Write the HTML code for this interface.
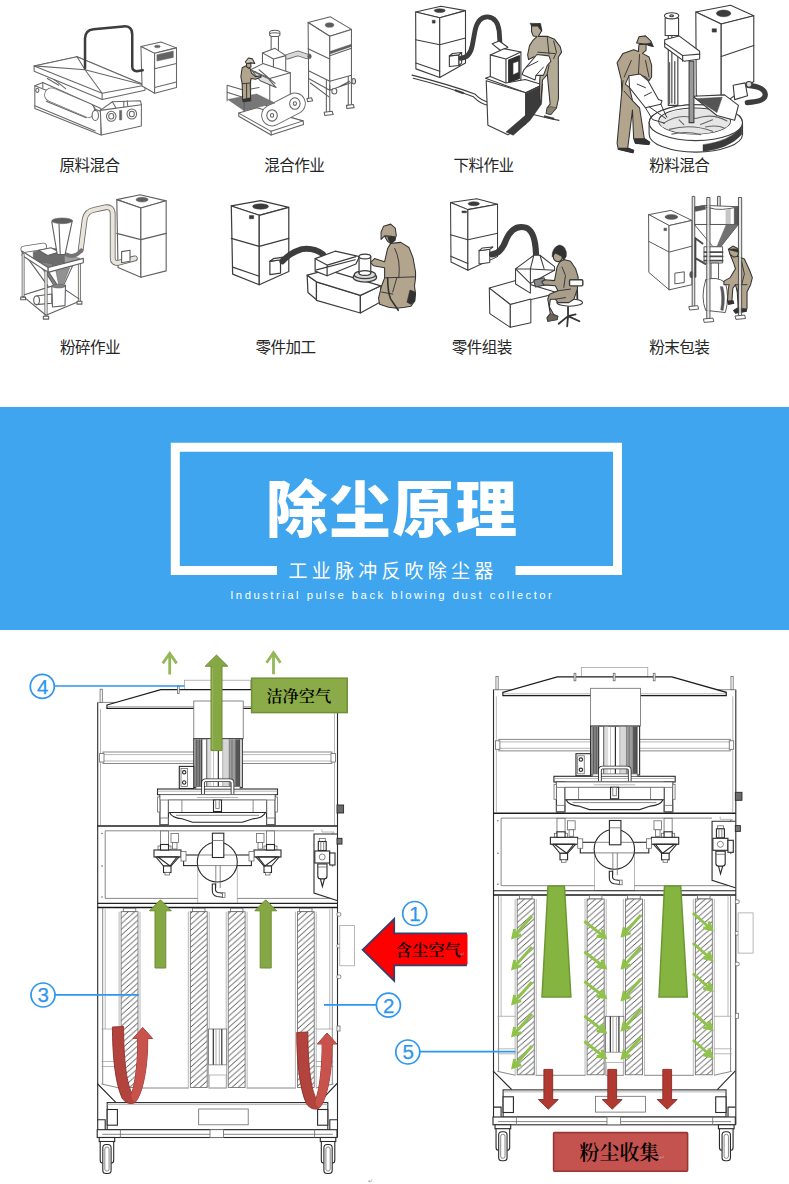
<!DOCTYPE html>
<html lang="zh-CN">
<head>
<meta charset="utf-8">
<title>除尘原理</title>
<style>
html,body{margin:0;padding:0;background:#fff;}
body{width:789px;height:1184px;overflow:hidden;position:relative;font-family:"Liberation Sans","Noto Sans CJK SC",sans-serif;}
svg{position:absolute;left:0;top:0;display:block;}
.lab{font-family:"Liberation Sans","Noto Sans CJK SC",sans-serif;font-size:15.6px;fill:#262626;text-anchor:middle;letter-spacing:-0.6px;}
.k{fill:none;stroke:#3c3c3c;stroke-width:4.6;stroke-linejoin:round;stroke-linecap:round;}
.w{fill:#fff;stroke:#3c3c3c;stroke-width:4.6;stroke-linejoin:round;stroke-linecap:round;}
.g{fill:#d9d9d9;stroke:#3c3c3c;stroke-width:4.6;stroke-linejoin:round;}
.d{fill:#3a3a3a;stroke:#3a3a3a;stroke-width:2;stroke-linejoin:round;}
.man{fill:#aaa08c;stroke:#3a3a3a;stroke-width:3.6;stroke-linejoin:round;}
.hose{fill:none;stroke-linecap:round;stroke-linejoin:round;}
.mn{fill:#b3a58d;stroke:#333;stroke-width:1.05px;vector-effect:non-scaling-stroke;stroke-linejoin:round;}
.dn{fill:#303030;stroke:#303030;stroke-width:0.5px;vector-effect:non-scaling-stroke;stroke-linejoin:round;}
.wn{fill:#fff;stroke:#3a3a3a;stroke-width:1.05px;vector-effect:non-scaling-stroke;stroke-linejoin:round;}
.kn{fill:none;stroke:#3a3a3a;stroke-width:1px;vector-effect:non-scaling-stroke;stroke-linejoin:round;stroke-linecap:round;}
.m1{fill:none;stroke:#6a6a6a;stroke-width:0.8;}
.m1w{fill:#fff;stroke:#6a6a6a;stroke-width:0.8;}
.m2{fill:none;stroke:#2a2a2a;stroke-width:1.1;}
.m2w{fill:#fff;stroke:#2a2a2a;stroke-width:1.1;}
.m3{fill:none;stroke:#9a9a9a;stroke-width:0.7;}
.m3w{fill:#fff;stroke:#9a9a9a;stroke-width:0.7;}
.num{font-family:"Liberation Sans","DejaVu Sans",sans-serif;font-size:20.500px;fill:#2d96f0;text-anchor:middle;stroke:#2d96f0;stroke-width:0.25px;}
.cn{font-family:"Liberation Serif","Noto Serif CJK SC",serif;font-weight:600;fill:#000;text-anchor:middle;}
</style>
</head>
<body>
<svg width="789" height="1184" viewBox="0 0 789 1184">
<g id="labels"><text class="lab" x="89.6" y="170.5">原料混合</text><text class="lab" x="294.3" y="170.5">混合作业</text><text class="lab" x="483.6" y="170.5">下料作业</text><text class="lab" x="679.3" y="170.5">粉料混合</text><text class="lab" x="90.1" y="352.8">粉碎作业</text><text class="lab" x="285.6" y="352.8">零件加工</text><text class="lab" x="481.7" y="352.8">零件组装</text><text class="lab" x="679.3" y="352.8">粉末包装</text></g>
<defs><filter id="soft" x="-2%" y="-2%" width="104%" height="104%"><feGaussianBlur stdDeviation="0.35"/></filter></defs><g id="illus" filter="url(#soft)">
<g transform="translate(20,10) scale(0.22814)" opacity="0.78"><path class="w" d="M65 332L100 318L355 432L355 548L65 432Z" /><path class="k" d="M65 332L355 445" /><path class="k" d="M100 340L100 318" /><ellipse class="k" cx="76" cy="352" rx="7" ry="9" /><path class="hose" d="M138 372L300 440" stroke="#4a4a4a" stroke-width="64"/><path class="hose" d="M138 372L300 440" stroke="#fff" stroke-width="57"/><path class="k" d="M115 400L290 472M318 415Q335 440 322 470" /><path class="k" d="M65 420L330 530" /><path class="w" d="M352 440L405 402L528 398L532 415L532 508L357 548Z" /><path class="k" d="M352 440L532 415" /><path class="k" d="M405 402L420 428M455 400L455 425M470 398L472 420" /><ellipse class="w" cx="400" cy="466" rx="21" ry="22" /><ellipse class="w" cx="490" cy="456" rx="21" ry="22" /><ellipse class="k" cx="400" cy="466" rx="11" ry="12" /><ellipse class="k" cx="490" cy="456" rx="11" ry="12" /><path class="d" d="M436 440H446V482H436Z" /><ellipse class="w" cx="330" cy="462" rx="14" ry="22" /><path class="w" d="M62 245L62 268L360 392L548 352L548 330L250 205Z" /><path class="w" d="M62 245L250 205L548 330L360 365Z" /><path class="k" d="M62 245L285 262L250 205M285 262L548 330M285 262L360 365M360 365V392" /><path class="k" d="M120 300L170 330M150 305L200 345" /><path class="w" d="M530 160L618 140L686 166L590 190Z" /><path class="w" d="M530 160L590 190L590 365L535 333Z" /><path class="w" d="M590 190L686 166L686 340L590 365Z" /><path class="k" d="M590 258L686 235" /><ellipse class="d" cx="602" cy="160" rx="13" ry="6" /><path class="d" d="M600 196L672 180L672 208L600 224Z" /><path class="k" d="M590 340L686 316" /></g>
<g transform="translate(20,10) scale(0.22814)"><path class="hose" d="M285 255V125Q285 88 322 84L452 72Q492 68 492 108V248Q492 268 512 268L538 264" stroke="#3c3c3c" stroke-width="11"/></g>
<g transform="translate(210,10) scale(0.22814)" opacity="0.82"><path class="k" d="M432 262V392" /><path class="k" d="M510 305V452" /><path class="k" d="M525 308V452" /><path class="k" d="M606 288V422" /><path class="k" d="M620 284V422" /><path class="w" d="M425 388L445 385L450 398L428 402Z" /><path class="w" d="M500 448L535 444L540 458L503 462Z" /><path class="w" d="M598 418L628 414L632 428L600 432Z" /><path class="k" d="M432 300L525 352L620 318M440 320L520 380M525 352V330M560 340L612 312" /><ellipse class="w" cx="545" cy="356" rx="11" ry="12" /><ellipse class="g" cx="630" cy="312" rx="8" ry="12" /><path class="w" d="M430 55L528 30L620 85L525 115Z" /><path class="w" d="M430 55L525 115L525 312L432 266Z" /><path class="w" d="M525 115L620 85L620 286L525 312Z" /><ellipse class="d" cx="524" cy="66" rx="19" ry="10" /><path class="d" d="M525 182L620 150L620 160L525 193Z" /><path class="k" d="M430 170L525 215M525 200L620 168" /><path class="hose" d="M338 205L385 190L425 203" stroke="#444" stroke-width="24"/><path class="hose" d="M338 205L385 190L425 203" stroke="#d0d0d0" stroke-width="17"/><ellipse class="d" cx="436" cy="203" rx="8" ry="11" /><path class="w" d="M268 108L300 108L300 205L268 205Z" /><ellipse class="w" cx="284" cy="100" rx="23" ry="11" /><ellipse class="w" cx="284" cy="108" rx="23" ry="8" /><path class="w" d="M230 188L285 168L332 200L332 290L275 300L230 270Z" /><path class="k" d="M230 188L278 215L332 200M278 215V298" /><path class="w" d="M178 262L232 235L352 275L352 392L262 425L178 385Z" /><path class="k" d="M178 262L262 300L352 275M262 300V425M200 270L265 330M215 262L285 322" /><path class="g" d="M185 268L255 300L290 340L220 310Z" /><path class="w" d="M126 452L205 428L408 486L410 502L268 548L126 466Z" /><path class="k" d="M126 452L268 532L408 486" /><path class="k" d="M268 532V548" /><path class="hose" d="M272 462L372 410" stroke="#4a4a4a" stroke-width="96"/><path class="hose" d="M272 462L372 410" stroke="#fff" stroke-width="88"/><ellipse class="w" cx="272" cy="462" rx="23" ry="25" /><ellipse class="k" cx="272" cy="462" rx="7" ry="8" /><ellipse class="w" cx="372" cy="410" rx="23" ry="25" /><ellipse class="k" cx="372" cy="410" rx="7" ry="8" /><path class="d" d="M78 392L205 368L285 408L150 442Z" style="fill:#5a5a5a"/><path class="k" d="M75 330V398M75 330L150 352V440M75 360L150 385M150 352L215 340" /></g>
<g transform="translate(220,50) scale(0.08873)"><path class="mn" d="M250 200L300 175L340 210L355 260L400 300L460 290L465 305L400 330L350 320L340 380L345 540L300 560L255 560L250 380L235 300Z" /><path class="mn" d="M298 150L345 148L350 190L325 205L300 190Z" /><path class="mn" d="M285 135L320 90L365 100L392 152L350 145L300 152Z" style="fill:#cfc6b4"/><path class="kn" d="M250 380L340 372M300 385V555" /><path class="dn" d="M255 555L345 538L350 575L258 585Z" /></g>
<g transform="translate(400,0) scale(0.24081)"><path class="k" d="M50 312Q200 350 310 390Q340 420 370 425L450 445Q560 480 660 500M55 325Q200 362 305 402Q335 432 365 437" /><path class="d" d="M230 372L265 384L262 390L228 378ZM470 452L510 462L508 468L468 458ZM600 480L640 490L638 496L598 486Z" /><path class="w" d="M65 50L170 26L272 44L165 74Z" /><path class="w" d="M65 50L165 74L165 322L66 286Z" /><path class="w" d="M165 74L272 44L272 262L165 322Z" /><path class="k" d="M65 165L165 186L272 158" /><path class="k" d="M66 262L165 296" /><ellipse class="d" cx="165" cy="44" rx="23" ry="8" /><path class="d" d="M134 84H146V96H134Z" /><path class="w" d="M205 232L245 228L245 272L205 276Z" /><path class="w" d="M205 232L218 222L256 218L245 228Z" /><path class="w" d="M245 228L256 218L256 262L245 272Z" /><path class="hose" d="M252 242Q290 240 300 190L312 125Q325 68 365 70Q405 74 412 130L415 178" stroke="#3c3c3c" stroke-width="20"/><path class="w" d="M383 182L412 170L448 196L420 212Z" /><path class="w" d="M375 228L432 202L502 216L502 332L440 352L375 330Z" /><path class="k" d="M375 228L440 245L502 216M440 245V352" /><path class="d" d="M452 250L495 232L495 325L452 342Z" style="fill:#2e2e2e;stroke:#2e2e2e;stroke-width:6"/><path class="w" d="M470 262L492 254L492 300L470 310Z" style="stroke-width:2"/><path class="w" d="M355 325L375 318L440 345L520 330L592 352L522 385Z" /><path class="w" d="M358 335L522 385L522 515L448 560L365 520Z" /><path class="k" d="M522 385L592 352" /><path class="d" d="M522 388L592 355L588 432L540 500L470 562L440 548L522 478Z" /></g>
<g transform="translate(510,15) scale(0.09288)"><path class="mn" d="M232 105L320 95L340 170L305 230L400 230L480 262L540 340L555 400L520 455L522 900L500 1000L440 1070L390 1060L400 1000L432 960L402 640L350 700L332 930L318 930L320 700L330 600L260 450L200 480L190 430L210 330L250 270L290 232L250 225L232 180Z" style="fill:#b4ab96"/><path class="dn" d="M215 90L330 92L345 175L318 150L300 120L235 122Z" /><path class="kn" d="M400 232L420 420M300 400L480 415M470 280L500 400L470 470M400 640L420 540" /><path class="dn" d="M388 1058L400 1000L440 985L500 1000L440 1072Z" style="fill:#8a8272"/><path class="wn" d="M150 590L290 425L420 440L440 500L400 545L360 650L280 650L270 700L130 640Z" /><path class="kn" d="M180 560L300 500M280 650L360 560" /></g>
<g transform="translate(600,0) scale(0.23954)"><path class="w" d="M400 50L545 22L642 66L506 100Z" /><path class="w" d="M400 50L506 100L506 440L402 400Z" /><path class="w" d="M506 100L642 66L642 340L506 440Z" /><path class="k" d="M506 236L642 190" /><ellipse class="d" cx="516" cy="56" rx="30" ry="14" /><path class="d" d="M468 120H486V134H468Z" /><path class="hose" d="M618 356Q688 362 690 395Q690 425 615 428" stroke="#3c3c3c" stroke-width="22"/><path class="w" d="M556 356L606 346L616 400L562 416Z" /><ellipse class="g" cx="622" cy="352" rx="12" ry="12" /><path class="w" d="M285 140L325 140L325 440L285 440Z" /><path class="w" d="M272 75L328 75L328 148L272 148Z" /><ellipse class="w" cx="299" cy="66" rx="30" ry="13" /><ellipse class="k" cx="299" cy="66" rx="8" ry="4" /><path class="k" d="M300 150V430" /><path class="w" d="M270 166L330 150L416 214L416 246L352 256L270 196Z" /><path class="k" d="M270 180L345 232L416 226M345 232V256" /><path class="w" d="M205 512A195 75 0 0 1 595 512V560A195 75 0 0 1 205 560Z" /><ellipse class="w" cx="400" cy="512" rx="195" ry="75" /><ellipse class="k" cx="395" cy="505" rx="150" ry="54" /><path class="d" d="M430 632Q540 620 592 560V530Q540 590 430 604Z" /><ellipse class="g" cx="395" cy="507" rx="148" ry="52" style="fill:#e6e6e6;stroke:none"/><path class="k" d="M265 515Q330 470 400 495Q470 470 530 505M290 540Q380 515 470 548M330 500L350 520M420 520L470 500M300 560Q360 545 420 562M440 530Q490 520 520 535" style="stroke:#666"/><path class="k" d="M290 262V432M312 258V432" style="stroke:#666;stroke-width:6"/><path class="w" d="M388 402L520 396L578 440L562 502L488 482Z" /><path class="d" d="M400 412L510 406L488 470Z" style="fill:#555"/><path class="g" d="M372 256L392 256L392 512L372 512Z" style="fill:#9a9a9a"/></g>
<g transform="translate(610,25) scale(0.11825)"><path class="mn" d="M245 165L305 165L305 215L275 240L330 270L352 340L352 440L330 470L300 440L250 420L160 430L130 500L165 530L190 640L250 700L290 960L335 990L330 1010L215 1000L200 960L190 720L150 1040L200 1060L195 1080L70 1050L60 1000L100 560L95 460L60 320L110 240L200 210L240 225Z" /><path class="mn" d="M225 152L245 100L300 92L345 135L365 182L330 172L300 160Z" /><path class="dn" d="M300 160L345 150L365 182L330 175Z" /><path class="kn" d="M180 300L120 440M250 250L240 420M300 300L330 440M120 560L190 640M100 560L110 470" /><path class="dn" d="M205 960L290 960L338 992L330 1012L215 1002Z" /><path class="dn" d="M75 1040L150 1040L202 1062L195 1082L70 1052Z" /><path class="wn" d="M160 430L255 415L320 470L410 630L440 640L430 670L300 700L165 530Z" /><path class="kn" d="M230 500L300 530M290 600L350 570M300 700L360 800L460 830M330 690L470 790M430 670L480 780" /></g>
<g transform="translate(0,190) scale(0.24081)" opacity="0.82"><path class="w" d="M485 40L582 20L690 45L585 75Z" /><path class="w" d="M485 40L585 75L585 362L490 322Z" /><path class="w" d="M585 75L690 45L690 336L585 362Z" /><path class="k" d="M485 180L585 206L690 180" /><ellipse class="d" cx="590" cy="40" rx="25" ry="10" /><path class="hose" d="M335 250L352 120Q358 88 392 82L438 72Q468 68 468 100V282Q468 306 492 302L560 284" stroke="#444" stroke-width="24"/><path class="hose" d="M335 250L352 120Q358 88 392 82L438 72Q468 68 468 100V282Q468 306 492 302L560 284" stroke="#e4e0d2" stroke-width="17"/><path class="w" d="M505 256L540 250L540 296L505 302Z" /><path class="hose" d="M330 300V466" stroke="#444" stroke-width="13"/><path class="hose" d="M330 300V466" stroke="#f3f1e8" stroke-width="6"/><path class="k" d="M98 436L238 392L328 452" /><path class="hose" d="M100 246L180 234" stroke="#444" stroke-width="30"/><path class="hose" d="M100 246L180 234" stroke="#fff" stroke-width="23"/><path class="d" d="M138 256L228 242L268 262L268 302L205 320L138 292Z" style="fill:#4c4c4c"/><path class="d" d="M268 262L332 284L332 300L268 314Z" style="fill:#8c8c8c"/><path class="w" d="M160 250L212 240L246 258L198 272Z" /><path class="hose" d="M275 268Q310 285 338 250" stroke="#555" stroke-width="16"/><path class="d" d="M150 296L215 306L252 396L232 400Z" style="fill:#6a6a6a"/><path class="w" d="M200 338L302 314L264 396L240 398Z" /><path class="d" d="M232 336L290 322L262 392L244 394Z" style="fill:#7a7a7a"/><path class="k" d="M120 290L200 400M165 300L225 398" /><path class="w" d="M215 400L272 396L270 480L218 486Z" /><ellipse class="d" cx="243" cy="399" rx="28" ry="8" style="fill:#666"/><path class="w" d="M150 440L215 432L215 470L150 476Z" /><ellipse class="w" cx="152" cy="458" rx="12" ry="18" /><path class="w" d="M92 254L200 322L200 342L92 272Z" /><path class="w" d="M200 322L346 284L346 302L200 342Z" /><path class="hose" d="M96 268V448" stroke="#444" stroke-width="12"/><path class="hose" d="M96 268V448" stroke="#f3f1e8" stroke-width="5"/><path class="hose" d="M191 340V526" stroke="#444" stroke-width="13"/><path class="hose" d="M191 340V526" stroke="#f3f1e8" stroke-width="6"/><path class="k" d="M96 442L191 520L330 462" /><path class="w" d="M86 445L106 445L106 456L86 456Z" /><path class="w" d="M180 524L202 524L202 536L180 536Z" /><path class="w" d="M320 462L340 462L340 474L320 474Z" /><path class="w" d="M215 132L300 128L270 268L238 268Z" /><ellipse class="d" cx="258" cy="128" rx="43" ry="12" /><path class="k" d="M245 142L250 264" /></g>
<g transform="translate(210,190) scale(0.26616)"><path class="w" d="M80 60L190 40L296 65L185 95Z" /><path class="w" d="M80 60L185 95L185 356L85 316Z" /><path class="w" d="M185 95L296 65L296 306L185 356Z" /><path class="k" d="M80 182L185 212L296 182" /><path class="k" d="M85 290L185 324" /><ellipse class="d" cx="190" cy="62" rx="30" ry="10" /><path class="d" d="M148 96H164V108H148Z" /><path class="w" d="M225 268L265 262L265 312L225 318Z" /><path class="w" d="M225 268L238 258L276 252L265 262Z" /><path class="hose" d="M272 268Q300 236 345 222Q390 215 425 242" stroke="#3c3c3c" stroke-width="22"/><path class="w" d="M365 320L400 345L400 412L368 385Z" /><path class="w" d="M400 345L565 396L565 462L400 415Z" /><path class="w" d="M565 396L642 360L642 420L565 462Z" /><path class="w" d="M365 320L440 300L642 360L565 396L400 345Z" /><path class="w" d="M395 258L470 230L562 250L548 278L440 322L395 305Z" /><path class="k" d="M395 258L440 282L548 250M440 282V322M400 300L545 262" /><ellipse class="g" cx="582" cy="328" rx="44" ry="18" /><ellipse class="g" cx="582" cy="318" rx="40" ry="15" /><path class="w" d="M560 250L604 250L604 312L560 312Z" /><ellipse class="w" cx="582" cy="250" rx="22" ry="9" /><ellipse class="w" cx="582" cy="312" rx="22" ry="9" /></g>
<g transform="translate(340,215) scale(0.10139)"><path class="mn" d="M500 280L600 270L680 320L720 420L745 560L745 620L735 700L745 780L735 850L700 900L640 910L560 920L480 910L390 880L380 820L410 700L440 620L440 520L330 500L300 470L340 430L440 460L470 330Z" /><path class="mn" d="M440 210L500 200L540 250L500 282L470 260Z" /><path class="mn" d="M405 170L430 110L500 90L545 130L555 200L540 250L510 210L440 205L405 240Z" /><path class="dn" d="M470 215L540 210L545 250L500 282L480 250Z" /><path class="kn" d="M540 330Q600 450 580 620M440 620L745 610M560 620L520 760M410 760L520 780" /><path class="dn" d="M690 740L742 760L740 850L700 882L660 860Z" /><path class="kn" d="M470 620Q470 760 500 830L575 940" style="stroke:#333;stroke-width:1.6px"/></g>
<g transform="translate(430,190) scale(0.22814)"><path class="w" d="M90 55L205 38L296 62L166 86Z" /><path class="w" d="M90 55L166 86L166 352L92 316Z" /><path class="w" d="M166 86L296 62L296 292L166 352Z" /><path class="k" d="M90 196L166 218L296 190" /><path class="k" d="M91 290L166 322" /><ellipse class="d" cx="192" cy="60" rx="25" ry="9" /><path class="d" d="M140 92H160V100H140Z" /><path class="w" d="M215 266L262 260L262 318L215 324Z" /><path class="w" d="M215 266L230 254L276 250L262 260Z" /><path class="hose" d="M272 282Q312 280 335 215Q365 150 420 165Q462 180 465 285" stroke="#3c3c3c" stroke-width="27"/><path class="w" d="M260 430L380 396L562 452L352 502Z" /><path class="w" d="M260 430L352 502L352 602L262 542Z" /><path class="w" d="M352 502L442 478L442 582L352 602Z" /><path class="w" d="M375 346L440 410L440 452L375 412Z" /><path class="w" d="M375 346L455 286L482 286L546 336L546 352L440 346Z" /><path class="k" d="M440 346V410M455 286L440 346M482 286L500 345M440 410L546 352" /><path class="g" d="M455 395L500 385L510 415L462 425Z" style="fill:#8a8a8a"/></g>
<g transform="translate(530,235) scale(0.08451)"><path class="kn" d="M450 850V960M450 960L340 1050M450 960L585 1020M450 960L440 1080M450 960L540 940M555 600L562 800" style="stroke:#333;stroke-width:1.8px"/><ellipse class="wn" cx="470" cy="800" rx="152" ry="42" /><path class="mn" d="M400 290L480 310L540 400L570 500L560 640L520 760L460 800L330 800L300 760L240 760L230 850L280 940L330 960L320 1000L210 1020L200 980L240 930L210 760L230 700L330 660L300 600L160 590L140 550L180 530L290 540L320 380L350 320Z" style="fill:#a89e8a"/><path class="kn" d="M380 380L420 480L400 620M330 660L480 640M300 760L420 740" /><ellipse class="mn" cx="330" cy="255" rx="55" ry="60" /><path class="dn" d="M262 262Q255 150 345 118Q440 130 430 250L400 300L370 250L300 215Z" /><path class="dn" d="M205 978L240 932L330 960L322 1002L210 1022Z" style="fill:#6a6458"/><path class="wn" d="M480 530H610Q625 530 625 545V590Q625 602 610 602H480Q468 602 468 590V545Q468 530 480 530Z" style="stroke-width:1.4px"/></g>
<g transform="translate(620,190) scale(0.21420)" opacity="0.85"><path class="w" d="M135 115L238 95L336 142L230 166Z" /><path class="w" d="M135 115L230 166L230 466L136 386Z" /><path class="w" d="M230 166L336 142L336 442L230 466Z" /><path class="k" d="M135 240L230 290L336 262" /><ellipse class="d" cx="240" cy="126" rx="30" ry="12" /><path class="d" d="M205 178H218V190H205Z" /><path class="w" d="M258 388L300 382L300 432L258 438Z" /><path class="g" d="M455 30L468 30L468 110L455 110Z" /><path class="w" d="M349 80L395 72L552 78L552 161L349 161Z" /><path class="k" d="M349 80Q380 70 420 84Q470 100 552 78M420 84V161" /><path class="g" d="M493 92L517 88L517 161L493 161Z" style="fill:#bdbdbd;stroke:none"/><path class="d" d="M533 84L552 78L552 161L533 161Z" style="fill:#3a3a3a"/><path class="d" d="M349 80L395 72L400 90L352 100Z" style="fill:#3a3a3a"/><path class="w" d="M349 161L552 161L470 265L436 265Z" /><path class="d" d="M496 161L552 161L470 265L452 265Z" style="fill:#5a5a5a"/><path class="k" d="M352 225V405M352 225L385 250M352 318L398 345" style="stroke:#2a2a2a;stroke-width:9"/><path class="w" d="M394 265L479 265L479 341L394 341Z" /><path class="k" d="M394 290H479M394 310H479M394 330H479" style="stroke:#2a2a2a;stroke-width:8"/><path class="w" d="M427 341L460 341L460 426L427 426Z" /><ellipse class="d" cx="335" cy="395" rx="10" ry="16" /><path class="w" d="M400 420Q375 500 400 562L492 572Q512 500 492 432Q450 400 400 420Z" /><path class="d" d="M468 450Q480 500 470 560L482 562Q494 500 480 452Z" /></g>
<g transform="translate(700,235) scale(0.08873)"><path class="mn" d="M420 240L500 270L560 400L590 480L570 560L530 640L530 820L520 860L400 880L380 850L430 820L420 640L400 560L370 600L360 740L380 770L320 780L310 740L320 600L330 560L270 560L270 520L340 480L400 380L380 320L340 220Z" /><path class="mn" d="M320 160L370 125L420 150L440 200L420 240L380 250L340 220Z" /><path class="dn" d="M322 165Q370 150 425 160L440 200L400 185Z" /><path class="kn" d="M470 300L500 440L470 560M400 560L530 560M420 640L440 560" /><path class="dn" d="M378 850L430 822L520 830L522 862L400 882Z" /><path class="dn" d="M312 742L375 738L382 772L320 782Z" /></g>
<g transform="translate(620,190) scale(0.21420)" opacity="0.85"><path class="g" d="M337 30L349 30L349 548L337 548Z" style="fill:#e2e2e2"/><path class="w" d="M323 544L363 540L367 556L327 560Z" /><path class="g" d="M405 35L420 35L420 606L405 606Z" style="fill:#e2e2e2"/><path class="w" d="M391 602L434 598L438 614L395 618Z" /><path class="g" d="M553 35L568 35L568 592L553 592Z" style="fill:#e2e2e2"/><path class="w" d="M539 588L582 584L586 600L543 604Z" /></g>
</g>
<g id="banner">
<rect x="0" y="407" width="789" height="223" fill="#3ea5ee"/>
<path d="M277 570.500H175.300V447.300H617.500V570.500H515.500" fill="none" stroke="#fff" stroke-width="9" stroke-linecap="butt"/>
<text x="392.3" y="531.500" text-anchor="middle" font-family="'Liberation Sans','Noto Sans CJK SC',sans-serif" font-weight="900" font-size="61.500" fill="#fff" letter-spacing="1.6">除尘原理</text>
<text x="393" y="578" text-anchor="middle" font-family="'Liberation Sans','Noto Sans CJK SC',sans-serif" font-weight="400" font-size="19" fill="#fff" letter-spacing="4.2">工业脉冲反吹除尘器</text>
<text x="392.3" y="598.700" text-anchor="middle" font-family="'Liberation Sans',sans-serif" font-size="11.300" fill="#fff" letter-spacing="2.5">Industrial pulse back blowing dust collector</text>
</g>
<defs><pattern id="hatch" width="6.4" height="5.7" patternUnits="userSpaceOnUse"><rect width="6.4" height="5.7" fill="#fff"/><path d="M-1.600 7.125L8 -1.425M-8 7.125L1.600 -1.425M4.800 7.125L14.400 -1.425" stroke="#3c3c3c" stroke-width="0.9" fill="none"/></pattern></defs>
<g id="machL"><path class="m2" d="M97.7 702.4L97.7 1137.5"/>
<path class="m2" d="M337.5 702.4L337.5 1137.5"/>
<path class="m1" d="M97.2 702.4L337.5 702.4"/>
<rect class="m1w" x="100.1" y="689.2" width="2.2" height="13.2" />
<rect class="m1w" x="332.7" y="689.2" width="2.2" height="13.2" />
<rect class="m3w" x="184.6" y="680.2" width="65.8" height="9.8" />
<path class="m2w" d="M107 705L160.8 689.600L274.2 689.600L328.0 705L328.0 708.4L107 708.4Z" style="stroke:#1c1c1c;stroke-width:1.25"/>
<path class="m3" d="M107.0 706.5L328.0 706.5"/>
<rect class="m1w" x="177.4" y="686.0" width="1.8" height="7.5" />
<rect class="m1w" x="255.8" y="686.0" width="1.8" height="7.5" />
<rect class="m1w" x="216.2" y="686.0" width="1.8" height="7.5" />
<path class="m3" d="M100.5 709.0L100.5 825.0"/>
<path class="m3" d="M334.5 709.0L334.5 825.0"/>
<rect class="m1w" x="103.0" y="752.0" width="229.0" height="11.6" />
<path class="m3" d="M103.0 754.6L332.0 754.6"/>
<path class="m3" d="M103.0 761.0L332.0 761.0"/>
<rect class="m1w" x="99.6" y="753.5" width="4.4" height="8.5" />
<rect class="m1w" x="331.0" y="753.5" width="4.4" height="8.5" />
<rect class="m1w" x="193.8" y="701.0" width="49.4" height="37.8" />
<rect class="m2w" x="193.8" y="738.8" width="48.5" height="48.8" />
<rect x="194.4" y="739.4" width="7.4" height="47.6" fill="#8c8c8c"/>
<rect x="207.6" y="739.4" width="3.6" height="47.6" fill="#dcdcdc"/>
<rect x="222.7" y="739.4" width="5.3" height="47.6" fill="#d6d6d6"/>
<rect x="229" y="739.4" width="6.2" height="47.6" fill="#9c9c9c"/>
<rect x="235.2" y="739.4" width="4.6" height="47.6" fill="#565656"/>
<path d="M196.8 739.4V787" stroke="#444" stroke-width="0.8" fill="none"/>
<path d="M199.3 739.4V787" stroke="#444" stroke-width="0.8" fill="none"/>
<path d="M201.8 739.4V787" stroke="#222" stroke-width="1" fill="none"/>
<path d="M206.8 739.4V787" stroke="#333" stroke-width="0.9" fill="none"/>
<path d="M213.5 739.4V787" stroke="#aaa" stroke-width="0.7" fill="none"/>
<path d="M218.3 739.4V787" stroke="#1e1e1e" stroke-width="1.1" fill="none"/>
<path d="M222.7 739.4V787" stroke="#999" stroke-width="0.7" fill="none"/>
<path d="M229 739.4V787" stroke="#666" stroke-width="0.8" fill="none"/>
<path d="M232 739.4V787" stroke="#666" stroke-width="0.7" fill="none"/>
<path d="M239.8 739.4V787" stroke="#333" stroke-width="0.8" fill="none"/>
<rect class="m2w" x="179.3" y="766.4" width="14.5" height="22.1" />
<rect class="m1" x="181.0" y="768.5" width="6.5" height="18.0" />
<circle class="m2" cx="184.2" cy="772.3" r="1.7"/><circle class="m2" cx="184.2" cy="782.500" r="1.7"/>
<rect class="m2w" x="157.5" y="789.0" width="120.0" height="5.7" />
<path class="m3" d="M157.5 791.2L277.5 791.2"/>
<rect class="m1w" x="196.0" y="786.6" width="44.0" height="2.4" />
<path d="M203 794V783Q203 780.200 205.800 780.200H229.700Q232.500 780.200 232.500 783V794" fill="none" stroke="#2a2a2a" stroke-width="3.6"/>
<path d="M203 794V783Q203 780.200 205.800 780.200H229.700Q232.500 780.200 232.500 783V794" fill="none" stroke="#fff" stroke-width="1.9"/>
<rect class="m2w" x="159.9" y="794.7" width="8.5" height="29.9" />
<rect class="m1" x="159.9" y="818.0" width="8.5" height="6.6" />
<rect class="m2w" x="266.6" y="794.7" width="8.5" height="29.9" />
<rect class="m1" x="266.6" y="818.0" width="8.5" height="6.6" />
<rect class="m1w" x="157.6" y="797.0" width="2.3" height="15.0" />
<rect class="m1w" x="275.1" y="797.0" width="2.3" height="15.0" />
<rect class="m1w" x="160.0" y="794.7" width="115.0" height="5.3" />
<rect class="m1w" x="168.6" y="800.0" width="97.8" height="12.5" />
<path class="m1" d="M181.9 800.0L181.9 812.5"/>
<path class="m1" d="M253.1 800.0L253.1 812.5"/>
<path class="m3" d="M197.0 797.5L238.0 797.5"/>
<rect class="m2w" x="213.5" y="800.0" width="8.0" height="11.5" />
<rect class="m1w" x="215.8" y="800.0" width="3.4" height="8.5" />
<path class="m2w" d="M169.5 812.5Q172 818 182 818.800L192.600 822.3H242.4L253.0 818.800Q263.0 818 265.5 812.500Z"/>
<path class="m1" d="M176.0 815.3L259.0 815.3"/>
<path d="M97.2 826H337.500" stroke="#1e1e1e" stroke-width="1.4" fill="none"/>
<path class="m1" d="M314 830.800H105.200V898.400H330"/>
<path class="m2" d="M337 834H314V893L337 900.500"/>
<path class="m3" d="M322 829.300V832H334V834"/>
<circle cx="102" cy="833.5" r="0.8" fill="#666"/>
<circle cx="102" cy="866" r="0.8" fill="#666"/>
<circle cx="102" cy="897" r="0.8" fill="#666"/>
<circle cx="332.5" cy="833.5" r="0.8" fill="#666"/>
<circle cx="332.5" cy="866" r="0.8" fill="#666"/>
<rect class="m3w" x="197.8" y="866.0" width="39.4" height="37.4" />
<rect class="m2w" x="183.6" y="855.0" width="67.8" height="10.6" />
<circle class="m2w" cx="217.3" cy="862" r="20"/>
<path class="m1" d="M198.6 855.0L236.0 855.0"/>
<path class="m1" d="M197.7 865.6L237.0 865.6"/>
<rect class="m2w" x="212.4" y="833.2" width="11.4" height="24.3" />
<path class="m1" d="M212.4 840.5L223.8 840.5"/>
<path class="m1" d="M215.800 865.600V888M220.200 865.600V888"/>
<path class="m2" d="M215.500 884V889.500Q215.500 892 218 892.500L222.500 893.200V897.200L217 896.500Q212.300 895.500 212.300 890.500V884Z" fill="#fff"/>
<rect class="m1w" x="222.5" y="892.8" width="2.5" height="4.7" />
<rect class="m1w" x="160.5" y="831.0" width="8.0" height="15.0" /><rect class="m1w" x="171.0" y="833.5" width="7.5" height="9.0" /><rect class="m1w" x="172.5" y="842.5" width="4.5" height="6.5" /><rect class="m1w" x="158.0" y="846.0" width="13.0" height="4.0" /><rect class="m2w" x="154.0" y="850.0" width="27.0" height="7.0" /><rect class="m1w" x="181.0" y="851.5" width="5.0" height="9.5" /><path class="m2w" d="M156.0 857.0L179.0 857.0L171.0 866.0L163.5 866.0Z"/><rect class="m2w" x="163.5" y="866.0" width="7.5" height="6.5" /><rect class="m1w" x="165.0" y="872.5" width="4.5" height="2.5" /><path class="m2" d="M158.0 857.0L170.0 866.0L177.0 857.0Z"/><rect class="m2w" x="160.5" y="844.5" width="8.0" height="5.5" />
<rect class="m1w" x="266.5" y="831.0" width="8.0" height="15.0" /><rect class="m1w" x="256.5" y="833.5" width="7.5" height="9.0" /><rect class="m1w" x="258.0" y="842.5" width="4.5" height="6.5" /><rect class="m1w" x="264.0" y="846.0" width="13.0" height="4.0" /><rect class="m2w" x="254.0" y="850.0" width="27.0" height="7.0" /><rect class="m1w" x="249.0" y="851.5" width="5.0" height="9.5" /><path class="m2w" d="M279.0 857.0L256.0 857.0L264.0 866.0L271.5 866.0Z"/><rect class="m2w" x="264.0" y="866.0" width="7.5" height="6.5" /><rect class="m1w" x="265.5" y="872.5" width="4.5" height="2.5" /><path class="m2" d="M277.0 857.0L265.0 866.0L258.0 857.0Z"/><rect class="m2w" x="266.5" y="844.5" width="8.0" height="5.5" />
<rect class="m1w" x="319.3" y="838.5" width="6.0" height="3.0" />
<rect class="m2w" x="318.3" y="841.5" width="7.9" height="9.0" />
<path class="m1" d="M320.8 841.5L320.8 850.5"/>
<path class="m1" d="M323.7 841.5L323.7 850.5"/>
<rect class="m2w" x="314.8" y="851.0" width="14.9" height="12.0" />
<circle class="m1" cx="322.2" cy="857" r="3"/>
<rect class="m2w" x="329.7" y="853.0" width="5.3" height="12.0" />
<path class="m2w" d="M317.800 864H327V876Q327 879 324 879H320.800Q317.800 879 317.800 876Z"/>
<path class="m1" d="M317.8 867.0L327.0 867.0"/>
<path class="m2w" d="M320.400 879H324.400L322.400 886.500Z"/>
<path d="M97.2 903.4H337.500" stroke="#222" stroke-width="1.1" fill="none"/>
<path d="M97.2 907.6H337.500" stroke="#1a1a1a" stroke-width="1.5" fill="none"/>
<rect x="337" y="805" width="6.6" height="8" fill="#6a6a6a" stroke="#2a2a2a" stroke-width="0.9"/>
<rect x="337" y="838.3" width="5" height="5.8" fill="#777" stroke="#2a2a2a" stroke-width="0.9"/>
<rect class="m1w" x="337" y="912.6" width="3.8" height="3.6" rx="1.2" ry="1.2"/>
<rect class="m1w" x="337" y="944.2" width="3.8" height="3.6" rx="1.2" ry="1.2"/>
<rect class="m1w" x="337" y="974.9000000000001" width="3.8" height="3.6" rx="1.2" ry="1.2"/>
<rect class="m1w" x="337.0" y="1026.0" width="3.0" height="5.0" />
<rect class="m3w" x="339.8" y="925.6" width="14.8" height="40.2" />
<path class="m1" d="M102.7 908.0L102.7 1084.0"/>
<path class="m1" d="M332.3 908.0L332.3 1084.0"/>
<path class="m3" d="M105.2 909.0L105.2 1029.0"/>
<path class="m3" d="M329.8 909.0L329.8 1029.0"/>
<rect class="m1w" x="123.3" y="908.3" width="12.5" height="3.4" />
<rect x="121.1" y="911.7" width="16.9" height="175.8" fill="url(#hatch)" stroke="#666" stroke-width="0.8"/>
<path class="m3" d="M119.1 911.7L119.1 1087.5"/>
<path class="m3" d="M140.0 911.7L140.0 1087.5"/>
<rect class="m1w" x="192.5" y="908.3" width="12.5" height="3.4" />
<rect x="190.3" y="911.7" width="16.9" height="175.8" fill="url(#hatch)" stroke="#666" stroke-width="0.8"/>
<path class="m3" d="M188.3 911.7L188.3 1087.5"/>
<path class="m3" d="M209.2 911.7L209.2 1087.5"/>
<rect class="m1w" x="230.4" y="908.3" width="12.5" height="3.4" />
<rect x="228.20000000000002" y="911.7" width="16.9" height="175.8" fill="url(#hatch)" stroke="#666" stroke-width="0.8"/>
<path class="m3" d="M226.2 911.7L226.2 1087.5"/>
<path class="m3" d="M247.1 911.7L247.1 1087.5"/>
<rect class="m1w" x="299.6" y="908.3" width="12.4" height="3.4" />
<rect x="297.40000000000003" y="911.7" width="16.8" height="175.8" fill="url(#hatch)" stroke="#666" stroke-width="0.8"/>
<path class="m3" d="M295.4 911.7L295.4 1087.5"/>
<path class="m3" d="M316.2 911.7L316.2 1087.5"/>
<path class="m3" d="M101.5 1029.0L119.5 1029.0"/>
<path class="m3" d="M315.8 1029.0L333.5 1029.0"/>
<path class="m3" d="M101.5 1061.5L119.5 1061.5"/>
<path class="m3" d="M315.8 1061.5L333.5 1061.5"/>
<path class="m3" d="M101.5 1066.5L119.5 1066.5"/>
<path class="m3" d="M315.8 1066.5L333.5 1066.5"/>
<rect class="m1w" x="208.6" y="1029.0" width="18.1" height="36.0" />
<path d="M213.300 1029V1065M221.800 1029V1065" stroke="#333" stroke-width="1.2" fill="none"/>
<path d="M216 1029V1065M219.300 1029V1065" stroke="#888" stroke-width="0.7" fill="none"/>
<rect class="m3w" x="208.6" y="1065.0" width="18.1" height="10.0" />
<path class="m3" d="M208.6 1075.0L208.6 1087.5"/>
<path class="m3" d="M226.7 1075.0L226.7 1087.5"/>
<path class="m2" d="M97.2 1083.500L115.800 1102.4M337 1083.500L319.2 1102.4"/>
<path class="m2" d="M97.2 1119.800H105.200V1130M337 1119.800H329.8V1130"/>
<path class="m1" d="M101.5 1084L119.500 1088M333.5 1084L315.800 1088"/>
<path class="m1" d="M139.400 1088H188.900M208.600 1088H226.800M246.500 1088H296"/>
<rect class="m2w" x="107.2" y="1102.6" width="220.6" height="27.2" />
<path class="m3" d="M107.2 1104.6L327.8 1104.6"/>
<rect class="m2w" x="107.2" y="1109.5" width="10.2" height="15.7" />
<rect class="m2w" x="317.6" y="1109.5" width="10.2" height="15.7" />
<rect class="m1w" x="198.7" y="1109.0" width="49.5" height="15.8" />
<rect class="m2w" x="97.2" y="1129.7" width="239.8" height="7.8" />
<path class="m1" d="M102.2 1134.3L332.8 1134.3"/>
<rect class="m1w" x="210.0" y="1129.7" width="13.4" height="7.8" />
<path class="m1" d="M120.4 1129.7L120.4 1137.5"/>
<path class="m1" d="M314.6 1129.7L314.6 1137.5"/>
<rect class="m2w" x="99.2" y="1137.5" width="15.5" height="4.0" />
<path class="m2w" d="M100.2 1141.5H113.7V1160Q113.7 1163 111.7 1163H102.2Q100.2 1163 100.2 1160Z"/>
<rect class="m2w" x="102.8" y="1144.5" width="8.3" height="29" rx="3.3" ry="3.3"/>
<rect class="m1" x="104.8" y="1147" width="4.3" height="24" rx="2" ry="2"/>
<rect class="m2w" x="320.3" y="1137.5" width="15.5" height="4.0" />
<path class="m2w" d="M321.3 1141.5H334.8V1160Q334.8 1163 332.8 1163H323.3Q321.3 1163 321.3 1160Z"/>
<rect class="m2w" x="323.90000000000003" y="1144.5" width="8.3" height="29" rx="3.3" ry="3.3"/>
<rect class="m1" x="325.90000000000003" y="1147" width="4.3" height="24" rx="2" ry="2"/></g>
<g id="ovL"><path d="M169.7 674.6V653.9M162.7 663.4L169.7 653.4L176.7 663.4" fill="none" stroke="#94b857" stroke-width="2.8" stroke-linecap="butt" stroke-linejoin="miter"/>
<path d="M273.5 674.2V653.3M266.5 662.8L273.5 652.8L280.5 662.8" fill="none" stroke="#94b857" stroke-width="2.8" stroke-linecap="butt" stroke-linejoin="miter"/>
<path d="M216.5 655L227.8 666.2H222.0V750.6H211.0V666.2H205.2Z" fill="#86a844" stroke="#6d8c36" stroke-width="1" stroke-linejoin="miter"/>
<path d="M212.600 668V749" stroke="#a3bf6a" stroke-width="1" fill="none" opacity="0.7"/>
<rect x="251.600" y="678.200" width="95.600" height="34.400" fill="#8aab48" stroke="#6e8f36" stroke-width="1.5"/>
<text class="cn" x="298.800" y="701.700" font-size="16.200">洁净空气</text>
<text x="334" y="703" font-family="'DejaVu Sans',sans-serif" font-size="7" fill="#9a9a9a">↵</text>
<path d="M160.4 899.8L171.3 910.8H165.8V968H155.0V910.8H149.5Z" fill="#86a844" stroke="#6d8c36" stroke-width="1" stroke-linejoin="miter"/>
<path d="M265.7 899.8L276.59999999999997 910.8H271.2V968H260.2V910.8H254.79999999999998Z" fill="#86a844" stroke="#6d8c36" stroke-width="1" stroke-linejoin="miter"/>
<path d="M112.4 1027L123.6 1026.5C123.5 1055 126 1082 131.8 1093C135.5 1082 138 1060 137.8 1038.5L133 1038.5L142.7 1027.5L152.6 1038.5L147.7 1038.5C148 1066 143 1094 135 1102.5C131 1105 125 1103 122 1098C115 1082 112.5 1055 112.4 1027Z" fill="#b3433d" stroke="#8f2f2a" stroke-width="0.9" stroke-linejoin="round"/><path d="M131.8 1093C135.5 1082 138 1060 137.8 1038.5L133 1038.5L142.7 1027.5L152.6 1038.5L147.7 1038.5C148 1066 143 1094 135 1102.5C132 1100 130.5 1097 131.8 1093Z" fill="#c7534c"/>
<path d="M296.70000000000005 1032.5L307.9 1032.0C307.8 1060.5 310.3 1087.5 316.1 1098.5C319.8 1087.5 322.3 1065.5 322.1 1044.0L317.3 1044.0L327.0 1033.0L336.9 1044.0L332.0 1044.0C332.3 1071.5 327.3 1099.5 319.3 1108.0C315.3 1110.5 309.3 1108.5 306.3 1103.5C299.3 1087.5 296.8 1060.5 296.70000000000005 1032.5Z" fill="#b3433d" stroke="#8f2f2a" stroke-width="0.9" stroke-linejoin="round"/><path d="M316.1 1098.5C319.8 1087.5 322.3 1065.5 322.1 1044.0L317.3 1044.0L327.0 1033.0L336.9 1044.0L332.0 1044.0C332.3 1071.5 327.3 1099.5 319.3 1108.0C316.3 1105.5 314.8 1102.5 316.1 1098.5Z" fill="#c7534c"/>
<path d="M54 686H184.500" stroke="#2d96f0" stroke-width="1.7" fill="none"/>
<circle cx="42.3" cy="686.4" r="12" fill="#fff" stroke="#2d96f0" stroke-width="1.7"/><text class="num" x="42.599999999999994" y="693.6999999999999">4</text>
<path d="M55 994.900H138.800" stroke="#2d96f0" stroke-width="1.7" fill="none"/>
<circle cx="43" cy="995" r="12" fill="#fff" stroke="#2d96f0" stroke-width="1.7"/><text class="num" x="43.3" y="1002.3">3</text>
<path d="M324 1004.900H376.500" stroke="#2d96f0" stroke-width="1.7" fill="none"/>
<circle cx="388.4" cy="1005.2" r="12" fill="#fff" stroke="#2d96f0" stroke-width="1.7"/><text class="num" x="388.7" y="1012.5">2</text>
<circle cx="414.7" cy="913.5" r="12" fill="#fff" stroke="#2d96f0" stroke-width="1.7"/><text class="num" x="415.0" y="920.8">1</text>
<path d="M362.600 949.800L394.200 918.800V933.300H466V965.300H394.200V980.800Z" fill="#fe0000" stroke="#33406e" stroke-width="1.8" stroke-linejoin="miter"/>
<rect x="464.5" y="934.2" width="3" height="30.200" fill="#fe0000"/>
<text class="cn" x="428.200" y="955.600" font-size="16.400">含尘空气</text>
<text x="460" y="956" font-family="'DejaVu Sans',sans-serif" font-size="6" fill="#888">↵</text></g>
<g id="machR" transform="translate(394.8,-12.7) scale(1.0104,1)"><path class="m2" d="M97.7 702.4L97.7 1137.5"/>
<path class="m2" d="M337.5 702.4L337.5 1137.5"/>
<path class="m1" d="M97.2 702.4L337.5 702.4"/>
<rect class="m1w" x="100.1" y="689.2" width="2.2" height="13.2" />
<rect class="m1w" x="332.7" y="689.2" width="2.2" height="13.2" />
<rect class="m3w" x="184.6" y="680.2" width="65.8" height="9.8" />
<path class="m2w" d="M107 705L160.8 689.600L274.2 689.600L328.0 705L328.0 708.4L107 708.4Z" style="stroke:#1c1c1c;stroke-width:1.25"/>
<path class="m3" d="M107.0 706.5L328.0 706.5"/>
<rect class="m1w" x="177.4" y="686.0" width="1.8" height="7.5" />
<rect class="m1w" x="255.8" y="686.0" width="1.8" height="7.5" />
<rect class="m1w" x="216.2" y="686.0" width="1.8" height="7.5" />
<path class="m3" d="M100.5 709.0L100.5 825.0"/>
<path class="m3" d="M334.5 709.0L334.5 825.0"/>
<rect class="m1w" x="103.0" y="752.0" width="229.0" height="11.6" />
<path class="m3" d="M103.0 754.6L332.0 754.6"/>
<path class="m3" d="M103.0 761.0L332.0 761.0"/>
<rect class="m1w" x="99.6" y="753.5" width="4.4" height="8.5" />
<rect class="m1w" x="331.0" y="753.5" width="4.4" height="8.5" />
<rect class="m1w" x="193.8" y="701.0" width="49.4" height="37.8" />
<rect class="m2w" x="193.8" y="738.8" width="48.5" height="48.8" />
<rect x="194.4" y="739.4" width="7.4" height="47.6" fill="#8c8c8c"/>
<rect x="207.6" y="739.4" width="3.6" height="47.6" fill="#dcdcdc"/>
<rect x="222.7" y="739.4" width="5.3" height="47.6" fill="#d6d6d6"/>
<rect x="229" y="739.4" width="6.2" height="47.6" fill="#9c9c9c"/>
<rect x="235.2" y="739.4" width="4.6" height="47.6" fill="#565656"/>
<path d="M196.8 739.4V787" stroke="#444" stroke-width="0.8" fill="none"/>
<path d="M199.3 739.4V787" stroke="#444" stroke-width="0.8" fill="none"/>
<path d="M201.8 739.4V787" stroke="#222" stroke-width="1" fill="none"/>
<path d="M206.8 739.4V787" stroke="#333" stroke-width="0.9" fill="none"/>
<path d="M213.5 739.4V787" stroke="#aaa" stroke-width="0.7" fill="none"/>
<path d="M218.3 739.4V787" stroke="#1e1e1e" stroke-width="1.1" fill="none"/>
<path d="M222.7 739.4V787" stroke="#999" stroke-width="0.7" fill="none"/>
<path d="M229 739.4V787" stroke="#666" stroke-width="0.8" fill="none"/>
<path d="M232 739.4V787" stroke="#666" stroke-width="0.7" fill="none"/>
<path d="M239.8 739.4V787" stroke="#333" stroke-width="0.8" fill="none"/>
<rect class="m2w" x="179.3" y="766.4" width="14.5" height="22.1" />
<rect class="m1" x="181.0" y="768.5" width="6.5" height="18.0" />
<circle class="m2" cx="184.2" cy="772.3" r="1.7"/><circle class="m2" cx="184.2" cy="782.500" r="1.7"/>
<rect class="m2w" x="157.5" y="789.0" width="120.0" height="5.7" />
<path class="m3" d="M157.5 791.2L277.5 791.2"/>
<rect class="m1w" x="196.0" y="786.6" width="44.0" height="2.4" />
<path d="M203 794V783Q203 780.200 205.800 780.200H229.700Q232.500 780.200 232.500 783V794" fill="none" stroke="#2a2a2a" stroke-width="3.6"/>
<path d="M203 794V783Q203 780.200 205.800 780.200H229.700Q232.500 780.200 232.500 783V794" fill="none" stroke="#fff" stroke-width="1.9"/>
<rect class="m2w" x="159.9" y="794.7" width="8.5" height="29.9" />
<rect class="m1" x="159.9" y="818.0" width="8.5" height="6.6" />
<rect class="m2w" x="266.6" y="794.7" width="8.5" height="29.9" />
<rect class="m1" x="266.6" y="818.0" width="8.5" height="6.6" />
<rect class="m1w" x="157.6" y="797.0" width="2.3" height="15.0" />
<rect class="m1w" x="275.1" y="797.0" width="2.3" height="15.0" />
<rect class="m1w" x="160.0" y="794.7" width="115.0" height="5.3" />
<rect class="m1w" x="168.6" y="800.0" width="97.8" height="12.5" />
<path class="m1" d="M181.9 800.0L181.9 812.5"/>
<path class="m1" d="M253.1 800.0L253.1 812.5"/>
<path class="m3" d="M197.0 797.5L238.0 797.5"/>
<rect class="m2w" x="213.5" y="800.0" width="8.0" height="11.5" />
<rect class="m1w" x="215.8" y="800.0" width="3.4" height="8.5" />
<path class="m2w" d="M169.5 812.5Q172 818 182 818.800L192.600 822.3H242.4L253.0 818.800Q263.0 818 265.5 812.500Z"/>
<path class="m1" d="M176.0 815.3L259.0 815.3"/>
<path d="M97.2 826H337.500" stroke="#1e1e1e" stroke-width="1.4" fill="none"/>
<path class="m1" d="M314 830.800H105.200V898.400H330"/>
<path class="m2" d="M337 834H314V893L337 900.500"/>
<path class="m3" d="M322 829.300V832H334V834"/>
<circle cx="102" cy="833.5" r="0.8" fill="#666"/>
<circle cx="102" cy="866" r="0.8" fill="#666"/>
<circle cx="102" cy="897" r="0.8" fill="#666"/>
<circle cx="332.5" cy="833.5" r="0.8" fill="#666"/>
<circle cx="332.5" cy="866" r="0.8" fill="#666"/>
<rect class="m3w" x="197.8" y="866.0" width="39.4" height="37.4" />
<rect class="m2w" x="183.6" y="855.0" width="67.8" height="10.6" />
<circle class="m2w" cx="217.3" cy="862" r="20"/>
<path class="m1" d="M198.6 855.0L236.0 855.0"/>
<path class="m1" d="M197.7 865.6L237.0 865.6"/>
<rect class="m2w" x="212.4" y="833.2" width="11.4" height="24.3" />
<path class="m1" d="M212.4 840.5L223.8 840.5"/>
<path class="m1" d="M215.800 865.600V888M220.200 865.600V888"/>
<path class="m2" d="M215.500 884V889.500Q215.500 892 218 892.500L222.500 893.200V897.200L217 896.500Q212.300 895.500 212.300 890.500V884Z" fill="#fff"/>
<rect class="m1w" x="222.5" y="892.8" width="2.5" height="4.7" />
<rect class="m1w" x="160.5" y="831.0" width="8.0" height="15.0" /><rect class="m1w" x="171.0" y="833.5" width="7.5" height="9.0" /><rect class="m1w" x="172.5" y="842.5" width="4.5" height="6.5" /><rect class="m1w" x="158.0" y="846.0" width="13.0" height="4.0" /><rect class="m2w" x="154.0" y="850.0" width="27.0" height="7.0" /><rect class="m1w" x="181.0" y="851.5" width="5.0" height="9.5" /><path class="m2w" d="M156.0 857.0L179.0 857.0L171.0 866.0L163.5 866.0Z"/><rect class="m2w" x="163.5" y="866.0" width="7.5" height="6.5" /><rect class="m1w" x="165.0" y="872.5" width="4.5" height="2.5" /><path class="m2" d="M158.0 857.0L170.0 866.0L177.0 857.0Z"/><rect class="m2w" x="160.5" y="844.5" width="8.0" height="5.5" />
<rect class="m1w" x="266.5" y="831.0" width="8.0" height="15.0" /><rect class="m1w" x="256.5" y="833.5" width="7.5" height="9.0" /><rect class="m1w" x="258.0" y="842.5" width="4.5" height="6.5" /><rect class="m1w" x="264.0" y="846.0" width="13.0" height="4.0" /><rect class="m2w" x="254.0" y="850.0" width="27.0" height="7.0" /><rect class="m1w" x="249.0" y="851.5" width="5.0" height="9.5" /><path class="m2w" d="M279.0 857.0L256.0 857.0L264.0 866.0L271.5 866.0Z"/><rect class="m2w" x="264.0" y="866.0" width="7.5" height="6.5" /><rect class="m1w" x="265.5" y="872.5" width="4.5" height="2.5" /><path class="m2" d="M277.0 857.0L265.0 866.0L258.0 857.0Z"/><rect class="m2w" x="266.5" y="844.5" width="8.0" height="5.5" />
<rect class="m1w" x="319.3" y="838.5" width="6.0" height="3.0" />
<rect class="m2w" x="318.3" y="841.5" width="7.9" height="9.0" />
<path class="m1" d="M320.8 841.5L320.8 850.5"/>
<path class="m1" d="M323.7 841.5L323.7 850.5"/>
<rect class="m2w" x="314.8" y="851.0" width="14.9" height="12.0" />
<circle class="m1" cx="322.2" cy="857" r="3"/>
<rect class="m2w" x="329.7" y="853.0" width="5.3" height="12.0" />
<path class="m2w" d="M317.800 864H327V876Q327 879 324 879H320.800Q317.800 879 317.800 876Z"/>
<path class="m1" d="M317.8 867.0L327.0 867.0"/>
<path class="m2w" d="M320.400 879H324.400L322.400 886.500Z"/>
<path d="M97.2 903.4H337.500" stroke="#222" stroke-width="1.1" fill="none"/>
<path d="M97.2 907.6H337.500" stroke="#1a1a1a" stroke-width="1.5" fill="none"/>
<rect x="337" y="805" width="6.6" height="8" fill="#6a6a6a" stroke="#2a2a2a" stroke-width="0.9"/>
<rect x="337" y="838.3" width="5" height="5.8" fill="#777" stroke="#2a2a2a" stroke-width="0.9"/>
<rect class="m1w" x="337" y="912.6" width="3.8" height="3.6" rx="1.2" ry="1.2"/>
<rect class="m1w" x="337" y="944.2" width="3.8" height="3.6" rx="1.2" ry="1.2"/>
<rect class="m1w" x="337" y="974.9000000000001" width="3.8" height="3.6" rx="1.2" ry="1.2"/>
<rect class="m1w" x="337.0" y="1026.0" width="3.0" height="5.0" />
<rect class="m3w" x="339.8" y="925.6" width="14.8" height="40.2" />
<path class="m1" d="M102.7 908.0L102.7 1084.0"/>
<path class="m1" d="M332.3 908.0L332.3 1084.0"/>
<path class="m3" d="M105.2 909.0L105.2 1029.0"/>
<path class="m3" d="M329.8 909.0L329.8 1029.0"/>
<rect class="m1w" x="123.3" y="908.3" width="12.5" height="3.4" />
<rect x="121.1" y="911.7" width="16.9" height="175.8" fill="url(#hatch)" stroke="#666" stroke-width="0.8"/>
<path class="m3" d="M119.1 911.7L119.1 1087.5"/>
<path class="m3" d="M140.0 911.7L140.0 1087.5"/>
<rect class="m1w" x="192.5" y="908.3" width="12.5" height="3.4" />
<rect x="190.3" y="911.7" width="16.9" height="175.8" fill="url(#hatch)" stroke="#666" stroke-width="0.8"/>
<path class="m3" d="M188.3 911.7L188.3 1087.5"/>
<path class="m3" d="M209.2 911.7L209.2 1087.5"/>
<rect class="m1w" x="230.4" y="908.3" width="12.5" height="3.4" />
<rect x="228.20000000000002" y="911.7" width="16.9" height="175.8" fill="url(#hatch)" stroke="#666" stroke-width="0.8"/>
<path class="m3" d="M226.2 911.7L226.2 1087.5"/>
<path class="m3" d="M247.1 911.7L247.1 1087.5"/>
<rect class="m1w" x="299.6" y="908.3" width="12.4" height="3.4" />
<rect x="297.40000000000003" y="911.7" width="16.8" height="175.8" fill="url(#hatch)" stroke="#666" stroke-width="0.8"/>
<path class="m3" d="M295.4 911.7L295.4 1087.5"/>
<path class="m3" d="M316.2 911.7L316.2 1087.5"/>
<path class="m3" d="M101.5 1029.0L119.5 1029.0"/>
<path class="m3" d="M315.8 1029.0L333.5 1029.0"/>
<path class="m3" d="M101.5 1061.5L119.5 1061.5"/>
<path class="m3" d="M315.8 1061.5L333.5 1061.5"/>
<path class="m3" d="M101.5 1066.5L119.5 1066.5"/>
<path class="m3" d="M315.8 1066.5L333.5 1066.5"/>
<rect class="m1w" x="208.6" y="1029.0" width="18.1" height="36.0" />
<path d="M213.300 1029V1065M221.800 1029V1065" stroke="#333" stroke-width="1.2" fill="none"/>
<path d="M216 1029V1065M219.300 1029V1065" stroke="#888" stroke-width="0.7" fill="none"/>
<rect class="m3w" x="208.6" y="1065.0" width="18.1" height="10.0" />
<path class="m3" d="M208.6 1075.0L208.6 1087.5"/>
<path class="m3" d="M226.7 1075.0L226.7 1087.5"/>
<path class="m2" d="M97.2 1083.500L115.800 1102.4M337 1083.500L319.2 1102.4"/>
<path class="m2" d="M97.2 1119.800H105.200V1130M337 1119.800H329.8V1130"/>
<path class="m1" d="M101.5 1084L119.500 1088M333.5 1084L315.800 1088"/>
<path class="m1" d="M139.400 1088H188.900M208.600 1088H226.800M246.500 1088H296"/>
<rect class="m2w" x="107.2" y="1102.6" width="220.6" height="27.2" />
<path class="m3" d="M107.2 1104.6L327.8 1104.6"/>
<rect class="m2w" x="107.2" y="1109.5" width="10.2" height="15.7" />
<rect class="m2w" x="317.6" y="1109.5" width="10.2" height="15.7" />
<rect class="m1w" x="198.7" y="1109.0" width="49.5" height="15.8" />
<rect class="m2w" x="97.2" y="1129.7" width="239.8" height="7.8" />
<path class="m1" d="M102.2 1134.3L332.8 1134.3"/>
<rect class="m1w" x="210.0" y="1129.7" width="13.4" height="7.8" />
<path class="m1" d="M120.4 1129.7L120.4 1137.5"/>
<path class="m1" d="M314.6 1129.7L314.6 1137.5"/>
<rect class="m2w" x="99.2" y="1137.5" width="15.5" height="4.0" />
<path class="m2w" d="M100.2 1141.5H113.7V1160Q113.7 1163 111.7 1163H102.2Q100.2 1163 100.2 1160Z"/>
<rect class="m2w" x="102.8" y="1144.5" width="8.3" height="29" rx="3.3" ry="3.3"/>
<rect class="m1" x="104.8" y="1147" width="4.3" height="24" rx="2" ry="2"/>
<rect class="m2w" x="320.3" y="1137.5" width="15.5" height="4.0" />
<path class="m2w" d="M321.3 1141.5H334.8V1160Q334.8 1163 332.8 1163H323.3Q321.3 1163 321.3 1160Z"/>
<rect class="m2w" x="323.90000000000003" y="1144.5" width="8.3" height="29" rx="3.3" ry="3.3"/>
<rect class="m1" x="325.90000000000003" y="1147" width="4.3" height="24" rx="2" ry="2"/></g>
<g id="ovR"><path d="M548 886H564.400L570.900 997H542Z" fill="#86b440" stroke="#6c9832" stroke-width="1.5"/>
<path d="M664.500 886H680.700L687.300 997H659Z" fill="#86b440" stroke="#6c9832" stroke-width="1.5"/>
<path d="M532.0 916.0L514.0 936.2M521.1 934.6L513.0 937.3L514.7 929.0" stroke="#8fc24a" stroke-width="3" fill="none" stroke-linejoin="miter" stroke-linecap="butt"/>
<path d="M532.0 947.0L514.0 967.2M521.1 965.6L513.0 968.3L514.7 960.0" stroke="#8fc24a" stroke-width="3" fill="none" stroke-linejoin="miter" stroke-linecap="butt"/>
<path d="M532.0 982.0L514.0 1002.2M521.1 1000.6L513.0 1003.3L514.7 995.0" stroke="#8fc24a" stroke-width="3" fill="none" stroke-linejoin="miter" stroke-linecap="butt"/>
<path d="M532.0 1014.0L514.0 1034.2M521.1 1032.6L513.0 1035.3L514.7 1027.0" stroke="#8fc24a" stroke-width="3" fill="none" stroke-linejoin="miter" stroke-linecap="butt"/>
<path d="M532.0 1046.0L514.0 1066.2M521.1 1064.6L513.0 1067.3L514.7 1059.0" stroke="#8fc24a" stroke-width="3" fill="none" stroke-linejoin="miter" stroke-linecap="butt"/>
<path d="M584.4 921.3L603.8 936.4M601.8 929.4L605.0 937.3L596.6 936.1" stroke="#8fc24a" stroke-width="3" fill="none" stroke-linejoin="miter" stroke-linecap="butt"/>
<path d="M584.4 951.7L603.8 966.8M601.8 959.8L605.0 967.7L596.6 966.5" stroke="#8fc24a" stroke-width="3" fill="none" stroke-linejoin="miter" stroke-linecap="butt"/>
<path d="M584.4 981.4L603.8 996.5M601.8 989.5L605.0 997.4L596.6 996.2" stroke="#8fc24a" stroke-width="3" fill="none" stroke-linejoin="miter" stroke-linecap="butt"/>
<path d="M584.4 1016.0L603.8 1031.1M601.8 1024.1L605.0 1032.0L596.6 1030.8" stroke="#8fc24a" stroke-width="3" fill="none" stroke-linejoin="miter" stroke-linecap="butt"/>
<path d="M584.4 1041.5L603.8 1056.6M601.8 1049.6L605.0 1057.5L596.6 1056.3" stroke="#8fc24a" stroke-width="3" fill="none" stroke-linejoin="miter" stroke-linecap="butt"/>
<path d="M641.0 915.0L623.5 934.4M630.6 932.9L622.5 935.5L624.3 927.2" stroke="#8fc24a" stroke-width="3" fill="none" stroke-linejoin="miter" stroke-linecap="butt"/>
<path d="M641.0 947.0L623.5 966.4M630.6 964.9L622.5 967.5L624.3 959.2" stroke="#8fc24a" stroke-width="3" fill="none" stroke-linejoin="miter" stroke-linecap="butt"/>
<path d="M641.0 978.9L623.5 998.3M630.6 996.8L622.5 999.4L624.3 991.1" stroke="#8fc24a" stroke-width="3" fill="none" stroke-linejoin="miter" stroke-linecap="butt"/>
<path d="M641.0 1009.0L623.5 1028.4M630.6 1026.9L622.5 1029.5L624.3 1021.2" stroke="#8fc24a" stroke-width="3" fill="none" stroke-linejoin="miter" stroke-linecap="butt"/>
<path d="M641.0 1037.4L623.5 1056.8M630.6 1055.3L622.5 1057.9L624.3 1049.6" stroke="#8fc24a" stroke-width="3" fill="none" stroke-linejoin="miter" stroke-linecap="butt"/>
<path d="M693.0 913.0L710.4 928.5M708.8 921.4L711.5 929.5L703.2 927.8" stroke="#8fc24a" stroke-width="3" fill="none" stroke-linejoin="miter" stroke-linecap="butt"/>
<path d="M693.0 943.0L710.4 958.5M708.8 951.4L711.5 959.5L703.2 957.8" stroke="#8fc24a" stroke-width="3" fill="none" stroke-linejoin="miter" stroke-linecap="butt"/>
<path d="M693.0 973.5L710.4 989.0M708.8 981.9L711.5 990.0L703.2 988.3" stroke="#8fc24a" stroke-width="3" fill="none" stroke-linejoin="miter" stroke-linecap="butt"/>
<path d="M693.0 1012.6L710.4 1028.1M708.8 1021.0L711.5 1029.1L703.2 1027.4" stroke="#8fc24a" stroke-width="3" fill="none" stroke-linejoin="miter" stroke-linecap="butt"/>
<path d="M693.0 1040.0L710.4 1055.5M708.8 1048.4L711.5 1056.5L703.2 1054.8" stroke="#8fc24a" stroke-width="3" fill="none" stroke-linejoin="miter" stroke-linecap="butt"/>
<path d="M548.3 1109.2L558.3 1099.5H552.6999999999999V1069.4H543.9V1099.5H538.3Z" fill="#b03a32" stroke="#8a2a26" stroke-width="0.9" stroke-linejoin="miter"/>
<path d="M612.2 1109.2L622.2 1099.5H616.6V1069.4H607.8000000000001V1099.5H602.2Z" fill="#b03a32" stroke="#8a2a26" stroke-width="0.9" stroke-linejoin="miter"/>
<path d="M667.2 1109.2L677.2 1099.5H671.6V1069.4H662.8000000000001V1099.5H657.2Z" fill="#b03a32" stroke="#8a2a26" stroke-width="0.9" stroke-linejoin="miter"/>
<rect x="553.600" y="1132.600" width="134" height="38.600" fill="#c4524e" stroke="#963733" stroke-width="1.6" rx="1" ry="1"/>
<text class="cn" x="619.400" y="1160" font-size="19.900">粉尘收集</text>
<text x="659" y="1160" font-family="'DejaVu Sans',sans-serif" font-size="7" fill="#b99">↵</text>
<path d="M419.500 1051.600H515.500" stroke="#2d96f0" stroke-width="1.7" fill="none"/>
<circle cx="407.8" cy="1052" r="12" fill="#fff" stroke="#2d96f0" stroke-width="1.7"/><text class="num" x="408.1" y="1059.3">5</text></g>
<text x="368" y="1183" font-family="'DejaVu Sans',sans-serif" font-size="6" fill="#999">↵</text>
</svg>
</body>
</html>
